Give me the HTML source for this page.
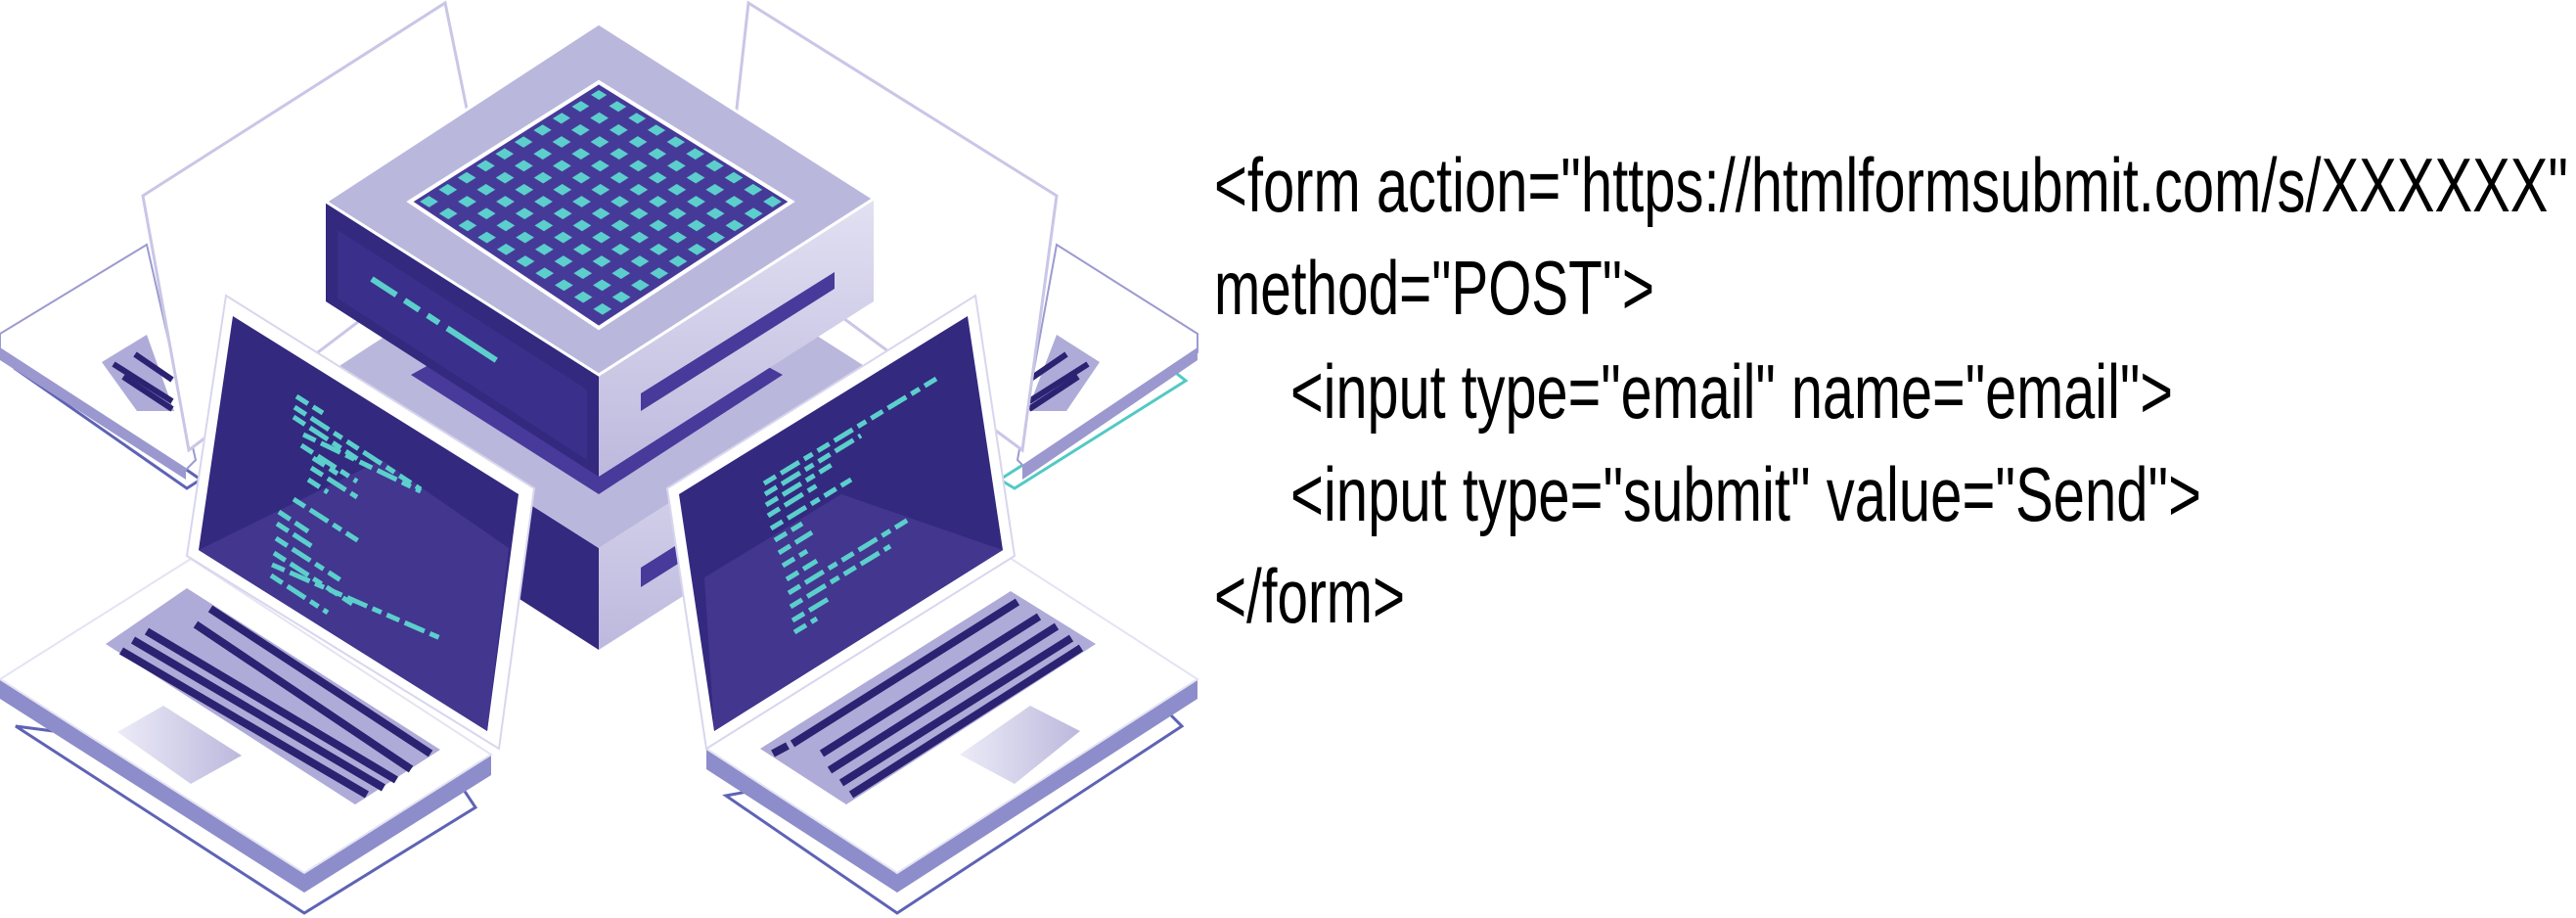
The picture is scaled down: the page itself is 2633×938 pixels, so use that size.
<!DOCTYPE html>
<html><head><meta charset="utf-8"><style>
html,body{margin:0;padding:0;background:#fff;}
svg{display:block;}
</style></head><body>
<svg width="2633" height="938" viewBox="0 0 2633 938" xmlns="http://www.w3.org/2000/svg">
<defs>
<pattern id="dots" patternUnits="userSpaceOnUse" width="10" height="10" patternTransform="matrix(1.97 1.22 -1.93 1.22 612 84)">
<rect x="2.6" y="2.6" width="4.8" height="4.8" fill="#5ccfcc"/>
</pattern>
<linearGradient id="rf" x1="0" y1="0" x2="0" y2="1"><stop offset="0" stop-color="#e2e0f2"/><stop offset="1" stop-color="#bdb9de"/></linearGradient>
<linearGradient id="tp" x1="0" y1="0" x2="1" y2="0"><stop offset="0" stop-color="#ecebf7"/><stop offset="1" stop-color="#bcb8dd"/></linearGradient>
</defs>

<!-- back left laptop -->
<polygon points="16,377 191,499 205,490 30,368" fill="none" stroke="#5f63b5" stroke-width="3"/>
<polygon points="0,341 150,250 200,470 190,480 0,360" fill="#fff" stroke="#9c9ad0" stroke-width="2"/>
<polygon points="0,355 190,478 190,490 0,368" fill="#9b98cf"/>
<polygon points="104,370 150,342 178,420 140,420" fill="#aeabd8"/>
<g stroke="#2b2272" stroke-width="6"><line x1="116" y1="372" x2="176" y2="410"/><line x1="126" y1="385" x2="176" y2="418"/><line x1="138" y1="362" x2="176" y2="388"/></g>
<polygon points="146,200 455,3 477,111 470,250 193,460" fill="#fff" stroke="#c9c6e6" stroke-width="3"/>

<!-- back right laptop -->
<polygon points="1212,389 1037,499 1022,490 1198,378" fill="none" stroke="#52c9c4" stroke-width="3"/>
<polygon points="1224,341 1080,250 1040,470 1050,480 1224,360" fill="#fff" stroke="#9c9ad0" stroke-width="2"/>
<polygon points="1224,355 1045,475 1045,490 1224,368" fill="#9b98cf"/>
<polygon points="1124,370 1080,342 1050,420 1090,420" fill="#aeabd8"/>
<g stroke="#2b2272" stroke-width="6"><line x1="1112" y1="372" x2="1052" y2="410"/><line x1="1102" y1="385" x2="1052" y2="418"/><line x1="1090" y1="362" x2="1052" y2="388"/></g>
<polygon points="1080,200 765,3 753,111 760,250 1045,460" fill="#fff" stroke="#c9c6e6" stroke-width="3"/>

<!-- lower cube -->
<polygon points="333,383 612,560 612,664 333,485" fill="#33297f"/>
<polygon points="612,560 893,380 893,485 612,664" fill="url(#rf)"/>
<polygon points="612,201 893,380 612,560 333,383" fill="#bab7dd"/>
<polygon points="420,383 612,505 800,383 780,372 612,478 440,372" fill="#473a9a"/>
<polygon points="655,580 853,455 853,475 655,600" fill="#473a9a"/>

<!-- top cube -->
<polygon points="333,206 612,383 612,487 333,308" fill="#33297f"/>
<polygon points="345,235 600,398 600,470 345,305" fill="#3a2f8a"/>
<polygon points="612,383 893,203 893,308 612,487" fill="url(#rf)"/>
<polygon points="612,24 893,203 612,383 333,206" fill="#bab7dd" stroke="#fff" stroke-width="3"/>
<polygon points="612,84 809,206 612,335 419,206" fill="#463a99" stroke="#fff" stroke-width="4"/>
<polygon points="612,92 801,206 612,327 427,206" fill="url(#dots)"/>
<polygon points="655,402 853,278 853,295 655,420" fill="#473a9a"/>
<line x1="380" y1="285" x2="530" y2="383" stroke="#5ccfcc" stroke-width="6" stroke-dasharray="30,10,18,10,14,10,60"/>

<!-- front left laptop -->
<polygon points="16,742 311,933 486,825 470,801" fill="none" stroke="#5f63b5" stroke-width="3"/>
<polygon points="0,694 195,571 502,771 502,792 311,912 0,714" fill="#8d8dcb"/>
<polygon points="0,694 195,571 502,771 311,892" fill="#fff" stroke="#e4e3f3" stroke-width="2"/>
<polygon points="108,658 191,601 450,766 363,822" fill="#aeabd8"/>
<g stroke="#2b2272" stroke-width="8">
<line x1="124" y1="665" x2="375" y2="812"/><line x1="136" y1="654" x2="392" y2="805"/><line x1="150" y1="645" x2="405" y2="797"/>
<line x1="200" y1="638" x2="420" y2="786"/><line x1="215" y1="622" x2="440" y2="770"/></g>
<polygon points="120,748 167,721 247,772 195,801" fill="url(#tp)"/>
<polygon points="231,302 546,499 510,765 191,568" fill="#fff" stroke="#d8d6ee" stroke-width="2"/>
<polygon points="238,323 530,505 498,747 203,562" fill="#33297f"/>
<polygon points="203,562 390,470 520,560 498,747" fill="#42368f"/>
<g stroke="#5ccfcc" stroke-width="5" stroke-dasharray="14,6,22,6,10,6">
<line x1="303" y1="405" x2="330" y2="422"/><line x1="301" y1="416" x2="430" y2="500"/>
<line x1="300" y1="426" x2="370" y2="472"/><line x1="310" y1="444" x2="430" y2="502"/>
<line x1="308" y1="455" x2="365" y2="492"/><line x1="320" y1="468" x2="345" y2="484"/>
<line x1="318" y1="478" x2="365" y2="508"/><line x1="315" y1="490" x2="335" y2="503"/>
<line x1="300" y1="510" x2="370" y2="555"/><line x1="285" y1="523" x2="315" y2="543"/>
<line x1="283" y1="535" x2="320" y2="559"/><line x1="282" y1="550" x2="350" y2="594"/>
<line x1="280" y1="565" x2="360" y2="617"/><line x1="278" y1="577" x2="450" y2="652"/>
<line x1="277" y1="588" x2="335" y2="626"/></g>

<!-- front right laptop -->
<polygon points="742,813 917,933 1208,742 1196,730" fill="none" stroke="#5f63b5" stroke-width="3"/>
<polygon points="722,765 1029,568 1224,694 1224,714 917,912 722,786" fill="#8d8dcb"/>
<polygon points="722,765 1029,568 1224,694 917,892" fill="#fff" stroke="#e4e3f3" stroke-width="2"/>
<polygon points="777,765 1033,604 1120,658 865,822" fill="#aeabd8"/>
<g stroke="#2b2272" stroke-width="8">
<line x1="810" y1="760" x2="1040" y2="615"/><line x1="840" y1="770" x2="1062" y2="630"/><line x1="848" y1="787" x2="1080" y2="640"/>
<line x1="860" y1="800" x2="1095" y2="652"/><line x1="870" y1="812" x2="1105" y2="662"/><line x1="790" y1="770" x2="805" y2="762"/></g>
<polygon points="981,771 1053,721 1104,747 1037,801" fill="url(#tp)"/>
<polygon points="682,499 997,302 1037,568 722,765" fill="#fff" stroke="#d8d6ee" stroke-width="2"/>
<polygon points="694,505 989,323 1025,562 730,747" fill="#33297f"/>
<polygon points="730,747 720,590 860,505 1025,562" fill="#42368f"/>
<g stroke="#5ccfcc" stroke-width="5" stroke-dasharray="14,6,22,6,10,6">
<line x1="781" y1="494" x2="957" y2="387"/><line x1="782" y1="505" x2="880" y2="445"/>
<line x1="783" y1="516" x2="850" y2="475"/><line x1="785" y1="527" x2="835" y2="496"/>
<line x1="788" y1="540" x2="870" y2="490"/><line x1="792" y1="552" x2="820" y2="535"/>
<line x1="796" y1="565" x2="830" y2="544"/><line x1="800" y1="578" x2="825" y2="563"/>
<line x1="804" y1="592" x2="835" y2="573"/><line x1="806" y1="606" x2="930" y2="530"/>
<line x1="808" y1="620" x2="910" y2="558"/><line x1="810" y1="634" x2="850" y2="610"/>
<line x1="812" y1="646" x2="835" y2="632"/></g>

<!-- code text -->
<g font-family="'Liberation Sans', sans-serif" font-size="78" fill="#000">
<text x="1241" y="216" textLength="1384" lengthAdjust="spacingAndGlyphs">&lt;form action="https://htmlformsubmit.com/s/XXXXXX"</text>
<text x="1241" y="321" textLength="450" lengthAdjust="spacingAndGlyphs">method="POST"&gt;</text>
<text x="1319" y="427" textLength="902" lengthAdjust="spacingAndGlyphs">&lt;input type="email" name="email"&gt;</text>
<text x="1319" y="532" textLength="931" lengthAdjust="spacingAndGlyphs">&lt;input type="submit" value="Send"&gt;</text>
<text x="1241" y="636" textLength="195" lengthAdjust="spacingAndGlyphs">&lt;/form&gt;</text>
</g>
</svg>
</body></html>
